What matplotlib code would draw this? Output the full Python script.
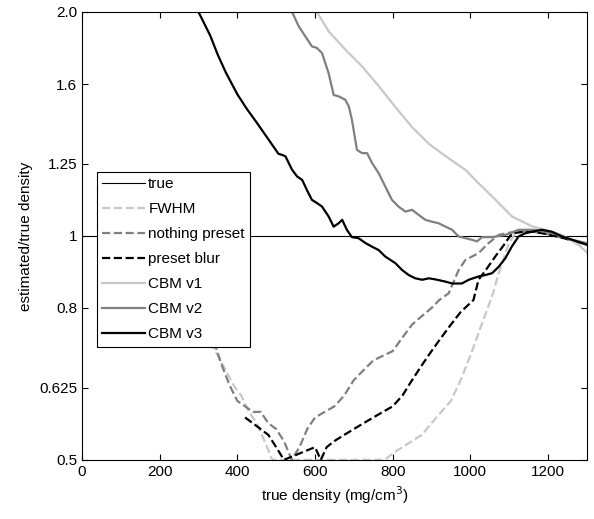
import numpy as np
import matplotlib
matplotlib.use('Agg')
import matplotlib.pyplot as plt

plt.rcParams['font.family'] = ['Liberation Sans', 'DejaVu Sans']

# CBM curves (solid)
v1_x = [605, 635, 678, 721, 764, 807, 850, 893, 936, 987, 1021, 1056, 1107, 1159, 1193, 1236, 1279, 1300]
v1_y = [2.0, 1.884, 1.78, 1.69, 1.59, 1.49, 1.40, 1.33, 1.28, 1.227, 1.177, 1.13, 1.062, 1.03, 1.019, 1.003,
        0.972, 0.95]

v2_x = [541, 558, 575, 592, 605, 618, 635, 648, 661, 678, 687, 695, 708, 721, 734, 747, 764, 781, 798, 815, 833,
        850, 867, 884, 901, 918, 936, 953, 970, 987, 1004, 1017, 1030, 1056, 1090, 1124, 1159, 1193, 1227, 1262, 1300]
v2_y = [2.0, 1.913, 1.855, 1.798, 1.789, 1.761, 1.655, 1.547, 1.540, 1.524, 1.493, 1.433, 1.305, 1.292, 1.292, 1.253,
        1.214, 1.165, 1.118, 1.095, 1.078, 1.084, 1.067, 1.051, 1.045, 1.040, 1.029, 1.019, 0.998, 0.993, 0.988,
        0.983, 0.996, 0.996, 1.003, 1.019, 1.019, 1.013, 1.003, 0.988, 0.978]

v3_x = [300, 330, 350, 370, 400, 425, 450, 475, 506, 515, 524, 541, 554, 567, 579, 592, 605, 618, 635, 648, 661, 670,
        682, 695, 712, 730, 747, 764, 781, 807, 824, 841, 858, 876, 893, 910, 936, 953, 978, 996, 1021, 1039, 1056,
        1073, 1090, 1107, 1124, 1141, 1159, 1184, 1210, 1236, 1262, 1300]
v3_y = [2.0, 1.86, 1.75, 1.66, 1.55, 1.48, 1.42, 1.36, 1.289, 1.285, 1.279, 1.227, 1.202, 1.189, 1.153, 1.118, 1.107,
        1.095, 1.062, 1.029, 1.040, 1.051, 1.019, 0.996, 0.993, 0.978, 0.967, 0.957, 0.938, 0.919, 0.900, 0.886,
        0.877, 0.873, 0.877, 0.874, 0.868, 0.863, 0.863, 0.873, 0.882, 0.886, 0.891, 0.909, 0.933, 0.968, 0.998,
        1.008, 1.013, 1.019, 1.013, 0.998, 0.988, 0.973]

# dashed curves
fwhm_x = [330, 350, 370, 390, 410, 430, 450, 470, 490, 780, 800, 825, 850, 875, 900, 925, 950, 975, 1000,
          1025, 1056, 1073, 1099, 1116, 1140, 1170, 1200, 1250, 1300]
fwhm_y = [0.72, 0.69, 0.66, 0.63, 0.61, 0.58, 0.56, 0.53, 0.5, 0.5, 0.51, 0.52, 0.53, 0.54, 0.56, 0.58, 0.60, 0.64,
          0.69, 0.75, 0.83, 0.891, 0.977, 1.008, 1.015, 1.02, 1.015, 0.99, 0.97]

nothing_x = [340, 360, 380, 400, 420, 440, 460, 480, 500, 520, 540, 560, 580, 600, 625, 650, 675, 700, 725, 750,
             775, 800, 825, 850, 875, 900, 920, 944, 970, 987, 1021, 1047, 1073, 1100, 1150, 1200, 1250, 1300]
nothing_y = [0.72, 0.67, 0.63, 0.60, 0.59, 0.58, 0.58, 0.56, 0.55, 0.53, 0.50, 0.52, 0.55, 0.57, 0.58, 0.59, 0.61,
             0.64, 0.66, 0.68, 0.69, 0.70, 0.73, 0.76, 0.78, 0.80, 0.82, 0.837, 0.90, 0.928, 0.948, 0.978, 1.003,
             1.01, 1.015, 1.005, 0.99, 0.975]

blur_x = [420, 440, 460, 480, 500, 520, 600, 615, 630, 650, 675, 700, 725, 750, 775, 800, 825, 850, 875, 900,
          925, 950, 975, 1008, 1021, 1040, 1064, 1085, 1107, 1150, 1200, 1250, 1300]
blur_y = [0.57, 0.56, 0.55, 0.54, 0.52, 0.5, 0.52, 0.5, 0.52, 0.53, 0.54, 0.55, 0.56, 0.57, 0.58, 0.59, 0.61, 0.64,
          0.67, 0.70, 0.73, 0.76, 0.79, 0.82, 0.873, 0.90, 0.938, 0.97, 1.008, 1.015, 1.005, 0.99, 0.975]

yticks = [0.5, 0.625, 0.8, 1, 1.25, 1.6, 2.0]
ytick_labels = ['0.5', '0.625', '0.8', '1', '1.25', '1.6', '2.0']
xticks = [0, 200, 400, 600, 800, 1000, 1200]

fig = plt.figure(figsize=(5.94, 5.19), dpi=100)
ax = fig.add_axes([0.138, 0.114, 0.850, 0.863])

ax.plot([0, 1300], [1, 1], color='k', lw=0.8, label='true')
ax.plot(fwhm_x, fwhm_y, '--', color='#c8c8c8', lw=1.6, label='FWHM')
ax.plot(nothing_x, nothing_y, '--', color='#808080', lw=1.6, label='nothing preset')
ax.plot(blur_x, blur_y, '--', color='k', lw=1.6, label='preset blur')
ax.plot(v1_x, v1_y, '-', color='#c8c8c8', lw=1.6, label='CBM v1')
ax.plot(v2_x, v2_y, '-', color='#808080', lw=1.6, label='CBM v2')
ax.plot(v3_x, v3_y, '-', color='k', lw=1.6, label='CBM v3')

ax.set_yscale('log')
ax.set_ylim(0.5, 2.0)
ax.set_xlim(0, 1300)
ax.set_yticks(yticks)
ax.set_yticklabels(ytick_labels)
ax.minorticks_off()
ax.set_xticks(xticks)
ax.tick_params(direction='in', top=True, right=True, labelsize=11, length=4)
ax.set_xlabel('true density (mg/cm$^3$)', fontsize=11)
ax.set_ylabel('estimated/true density', fontsize=11)

leg = ax.legend(loc='upper left', bbox_to_anchor=(0.03, 0.643), fontsize=11, frameon=True,
                fancybox=False, edgecolor='k', handlelength=2.8, labelspacing=0.72, borderpad=0.35,
                handletextpad=0.2, borderaxespad=0)
leg.get_frame().set_linewidth(0.8)
leg.get_frame().set_alpha(1)

fig.savefig('out.png', dpi=100)
